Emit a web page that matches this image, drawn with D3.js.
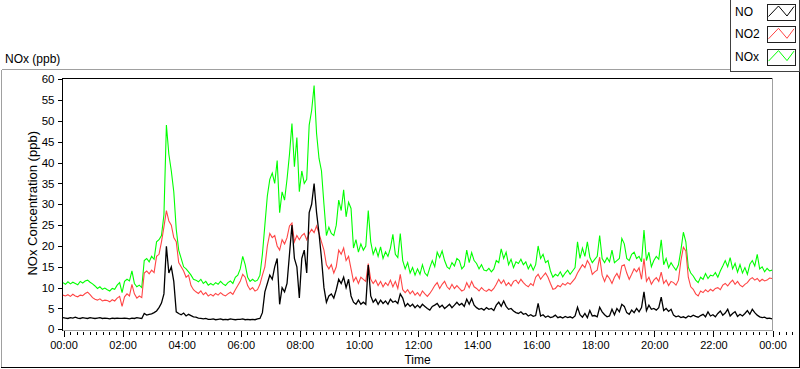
<!DOCTYPE html>
<html><head><meta charset="utf-8">
<script src="https://cdn.jsdelivr.net/npm/d3@7"></script>
<style>
body{margin:0;background:#fff}
svg{display:block}
text{font-family:"Liberation Sans",Arial,sans-serif;fill:#000}
</style>
</head><body>
<svg id="c" width="800" height="369"></svg>
<script>
// ---------- data ----------
const chartTitle = "NOx (ppb)";
const yLabel = "NOx Concentration (ppb)";
const xLabel = "Time";
const seriesNames = ["NO", "NO2", "NOx"];
const yTicks = [0,5,10,15,20,25,30,35,40,45,50,55,60];
const xTickHours = [0,2,4,6,8,10,12,14,16,18,20,22,24];
const xTickLabels = ["00:00","02:00","04:00","06:00","08:00","10:00","12:00","14:00","16:00","18:00","20:00","22:00","00:00"];
const stepMinutes = 5; // one value every 5 minutes, 00:00 .. 24:00

const no = [
2.8,2.7,2.6,2.8,2.7,2.9,2.7,2.6,2.8,2.7,2.6,2.8,
2.7,2.6,2.7,2.8,2.6,2.7,2.6,2.5,2.7,2.6,2.7,2.6,
2.6,2.7,2.6,2.5,2.7,2.6,2.8,2.7,2.6,3.8,3.4,3.6,
3.7,4.0,4.4,5.2,6.3,8.5,19.9,13.5,15.0,11.5,4.2,3.8,
3.5,3.9,3.2,3.6,3.3,3.0,2.9,2.7,2.6,2.5,2.6,2.4,
2.4,2.5,2.3,2.4,2.5,2.3,2.4,2.3,2.5,2.4,2.3,2.4,
2.4,2.5,2.3,2.4,2.3,2.4,2.3,2.5,2.6,4.0,9.0,11.0,
13.0,12.0,15.0,17.0,6.0,10.0,9.0,11.0,18.0,25.0,17.0,15.0,
7.5,17.0,19.0,13.5,28.0,30.0,35.0,28.0,23.0,17.0,10.0,6.5,
8.0,8.5,7.5,9.5,12.0,11.0,12.5,10.0,12.0,8.0,6.5,6.0,
7.0,6.0,6.5,6.0,15.4,8.0,6.5,7.2,6.0,7.0,6.2,6.8,
6.0,7.2,6.5,6.8,6.2,8.5,7.5,5.5,6.2,5.5,6.0,5.2,
5.8,5.2,6.0,5.5,5.0,4.6,5.5,5.8,6.2,5.3,5.8,5.0,
5.5,6.0,5.2,5.8,6.5,5.8,6.2,5.5,7.2,6.0,7.4,5.8,
5.2,4.8,5.0,4.6,5.2,4.8,5.0,4.5,5.8,6.5,5.5,6.8,
5.5,4.8,5.0,4.4,4.0,3.8,4.2,3.6,3.8,3.2,3.5,3.1,
3.3,6.2,3.2,3.5,2.9,3.2,2.8,3.0,3.4,2.8,3.0,2.7,
3.1,2.8,3.0,2.7,3.2,5.3,3.5,2.9,3.8,2.8,4.5,3.2,
3.3,3.0,5.3,4.2,3.5,3.0,3.2,4.8,3.5,5.0,4.2,6.0,
5.5,4.0,3.6,4.6,4.0,5.0,4.2,5.2,9.0,4.5,5.8,4.8,
5.0,4.6,5.2,7.7,4.5,5.0,4.3,4.8,3.4,3.0,3.2,2.8,
3.0,2.7,3.2,3.0,3.4,3.1,2.9,3.3,3.6,3.0,4.2,3.2,
3.5,3.0,3.8,4.4,3.4,3.9,4.8,3.2,3.8,4.2,3.1,3.6,
3.2,3.8,4.5,3.6,4.8,4.0,3.4,3.0,2.8,2.9,2.6,2.7,
2.5];

const no2 = [
8.2,8.0,8.3,7.9,8.4,8.0,7.8,8.2,8.1,8.6,8.9,8.3,
7.6,7.2,7.0,7.3,6.8,7.0,6.9,6.6,7.1,6.8,7.5,7.9,
5.5,7.8,8.5,8.0,10.8,8.5,7.5,8.0,7.6,13.5,14.0,13.3,
14.2,13.6,17.5,18.0,21.0,24.6,28.5,26.0,25.0,22.0,21.0,16.0,
15.0,14.0,12.5,13.0,10.5,9.5,9.0,8.6,9.2,8.3,8.8,8.0,
8.4,8.0,8.6,8.2,8.8,8.3,8.0,8.5,8.9,8.4,9.5,10.5,
11.5,13.2,12.5,10.5,9.5,10.0,9.2,9.5,10.8,13.0,15.0,20.0,
23.0,22.0,22.5,20.0,19.0,21.5,20.5,22.0,24.8,25.5,21.0,22.5,
21.5,22.5,23.0,21.5,23.0,24.0,23.2,24.8,23.0,21.0,19.0,15.5,
14.5,15.5,13.5,15.0,19.0,18.0,19.5,16.5,17.5,14.5,11.5,12.5,
11.0,12.5,12.0,11.5,15.8,12.0,11.0,11.8,10.5,11.5,10.2,11.2,
10.5,11.8,10.2,11.5,9.8,13.2,9.5,8.8,9.5,8.5,9.2,8.2,
8.8,8.0,9.2,8.5,7.9,8.6,9.5,10.5,11.2,9.8,10.8,11.5,
10.2,9.6,10.8,9.8,10.5,9.8,9.2,9.5,11.2,10.0,11.5,10.2,
9.8,9.2,10.0,9.4,9.1,9.6,9.2,9.8,10.8,12.0,11.0,11.8,
10.5,11.2,10.4,11.5,11.8,11.0,12.0,11.2,10.6,10.2,11.0,10.5,
12.5,13.2,12.0,12.8,13.5,12.5,11.0,9.6,9.8,10.5,10.2,11.0,
10.6,11.2,10.8,11.5,12.2,13.5,14.5,15.5,14.8,16.5,15.5,13.2,
13.8,14.2,17.3,13.0,11.5,13.0,12.2,11.0,12.5,13.4,12.2,15.2,
15.5,13.5,12.0,13.2,14.5,13.8,14.8,12.0,17.0,11.5,12.5,10.8,
11.8,12.4,11.5,13.7,11.0,11.8,10.5,11.5,11.2,10.6,11.8,16.5,
19.7,18.8,12.5,10.2,9.6,8.5,8.0,9.2,8.8,9.5,9.0,9.6,
9.2,9.8,10.0,9.5,10.6,11.0,10.4,11.2,11.8,10.8,11.5,10.6,
10.2,10.8,11.2,12.0,12.4,11.8,12.2,11.5,12.0,11.6,11.8,12.3,
12.2];

const nox = [
11.2,10.8,11.4,10.9,11.3,11.0,10.7,11.5,11.1,11.6,11.8,11.3,
10.9,10.4,9.8,10.2,9.6,9.9,9.5,9.2,9.8,9.6,10.6,11.2,
8.8,11.5,12.0,11.6,14.0,11.0,10.2,10.6,10.0,16.5,17.0,16.2,
17.5,16.8,21.0,21.5,22.5,27.5,49.0,42.0,38.0,33.0,24.0,19.0,
17.0,15.0,14.5,13.8,13.0,12.0,11.8,11.4,12.0,11.0,11.5,10.6,
11.0,10.6,11.2,10.8,11.5,10.9,10.5,11.2,11.6,11.0,12.5,13.0,
14.5,17.5,15.5,12.5,11.5,12.0,11.5,11.8,13.0,18.0,25.0,32.0,
36.0,37.5,35.0,40.5,28.0,33.0,31.0,36.0,42.0,49.4,39.0,46.0,
33.0,38.0,35.0,36.0,49.0,52.5,58.5,47.0,41.0,38.0,30.0,22.5,
24.5,23.0,22.5,25.0,31.0,28.5,33.5,27.0,30.5,29.0,19.5,21.5,
18.5,20.5,19.0,20.0,28.5,21.0,18.0,19.5,17.5,19.8,17.0,18.6,
17.5,19.5,22.8,18.0,17.2,23.0,16.5,14.5,16.0,13.5,14.8,13.0,
14.5,13.2,15.5,13.5,12.8,14.8,16.5,15.0,18.5,17.2,18.8,16.5,
15.0,14.5,16.0,15.2,17.0,16.5,14.5,15.2,19.0,16.0,18.4,16.5,
15.8,14.5,15.5,14.2,14.0,14.6,13.8,14.5,16.5,16.0,19.3,17.0,
18.5,15.5,16.8,14.8,16.2,15.8,16.8,15.5,16.2,14.5,15.6,14.2,
15.5,20.0,17.0,18.0,16.0,16.5,14.0,12.5,13.2,12.8,13.8,12.6,
13.5,14.2,13.2,14.0,14.8,21.0,17.0,19.5,17.5,21.0,17.3,16.0,
16.8,17.5,22.5,17.0,16.0,17.2,16.2,19.0,16.0,16.5,17.0,21.8,
20.5,17.0,16.5,18.0,18.5,17.0,17.5,16.2,23.8,16.5,18.5,15.0,
16.5,17.5,16.8,21.5,15.5,17.0,14.8,16.0,15.0,14.2,15.5,19.0,
23.3,21.0,14.9,13.5,12.8,11.8,11.2,12.5,12.0,13.4,12.2,13.0,
12.8,13.6,12.5,14.0,15.2,16.5,15.0,17.2,14.5,15.8,13.7,15.5,
13.5,14.8,13.2,15.6,16.5,15.2,18.0,14.5,15.0,13.8,14.6,14.0,
14.2];

const seriesColors = ["#000000", "#ff4545", "#00ff00"];

// ---------- drawing ----------
const svg = d3.select("#c");
const FONT = '"Liberation Sans",Arial,sans-serif';
const plot = {left: 63, right: 772, top: 79.3, bottom: 329.3};

const hours = no.map((d, i) => i * stepMinutes / 60);
const x = d3.scaleLinear().domain([0, 24]).range([plot.left, plot.right]);
const y = d3.scaleLinear().domain([0, 60]).range([plot.bottom, plot.top]);

// outer frame
const g0 = svg.append("g").attr("shape-rendering", "crispEdges");
g0.append("line").attr("x1", 1.5).attr("x2", 1.5).attr("y1", 69.5).attr("y2", 367).attr("stroke", "#a0a0a0");
g0.append("line").attr("x1", 1.5).attr("x2", 730).attr("y1", 69.5).attr("y2", 69.5).attr("stroke", "#a0a0a0");
g0.append("line").attr("x1", 1).attr("x2", 800).attr("y1", 367.5).attr("y2", 367.5).attr("stroke", "#000");
g0.append("line").attr("x1", 799.5).attr("x2", 799.5).attr("y1", 71).attr("y2", 368).attr("stroke", "#000");

// plot area frame
g0.append("line").attr("x1", plot.left).attr("x2", plot.right).attr("y1", 78.5).attr("y2", 78.5).attr("stroke", "#000");
g0.append("line").attr("x1", plot.right + 0.5).attr("x2", plot.right + 0.5).attr("y1", 78).attr("y2", 331).attr("stroke", "#a0a0a0");
g0.append("line").attr("x1", plot.left).attr("x2", plot.right + 1).attr("y1", 330.5).attr("y2", 330.5).attr("stroke", "#a0a0a0");

// title
svg.append("text").attr("x", 5).attr("y", 63).attr("font-size", 12).text(chartTitle);

// y axis
const yAxis = d3.axisLeft(y).tickValues(yTicks).tickSize(5).tickPadding(3);
const gy = svg.append("g").attr("transform", `translate(${plot.left - 0.5},0)`).call(yAxis);
gy.select(".domain").attr("d", `M0,78V331`).attr("stroke", "#000").attr("shape-rendering", "crispEdges");
gy.selectAll(".tick line").attr("stroke", "#000").attr("shape-rendering", "crispEdges");
gy.selectAll(".tick text").attr("font-size", 11.5).attr("font-family", FONT).attr("fill", "#000");

// x axis minor ticks
const minor = d3.range(0, 24 * 9 + 1).map(k => k * 2 / 9);
const xMinor = d3.axisBottom(x).tickValues(minor).tickSize(3).tickFormat("");
const gxm = svg.append("g").attr("transform", `translate(0.5,${plot.bottom + 2.7})`).call(xMinor);
gxm.select(".domain").remove();
gxm.selectAll(".tick line").attr("stroke", "#000").attr("shape-rendering", "crispEdges");

// x axis major
const xAxis = d3.axisBottom(x).tickValues(xTickHours).tickSize(6).tickPadding(4)
  .tickFormat((d, i) => xTickLabels[i]);
const gx = svg.append("g").attr("transform", `translate(0.5,${plot.bottom + 1.7})`).call(xAxis);
gx.select(".domain").remove();
gx.selectAll(".tick line").attr("stroke", "#000").attr("shape-rendering", "crispEdges");
gx.selectAll(".tick text").attr("font-size", 11).attr("font-family", FONT).attr("fill", "#000");

// axis labels
svg.append("text").attr("transform", `translate(37,${(plot.top + plot.bottom) / 2 - 1}) rotate(-90)`)
  .attr("text-anchor", "middle").attr("font-size", 13).text(yLabel);
svg.append("text").attr("x", (plot.left + plot.right) / 2).attr("y", 364)
  .attr("text-anchor", "middle").attr("font-size", 12).text(xLabel);

// lines
const line = d3.line().x((d, i) => x(hours[i])).y(d => y(d));
const seriesData = [nox, no2, no];
const seriesCol = [seriesColors[2], seriesColors[1], seriesColors[0]];
svg.append("g").selectAll("path").data(seriesData).join("path")
  .attr("d", line).attr("fill", "none")
  .attr("stroke", (d, i) => seriesCol[i]).attr("stroke-width", (d, i) => i === 2 ? 1.3 : 1.1)
  .attr("stroke-linejoin", "miter");

// legend
const lg = svg.append("g").attr("shape-rendering", "crispEdges");
lg.append("rect").attr("x", 730.5).attr("y", -1).attr("width", 69).attr("height", 72.5)
  .attr("fill", "#fff").attr("stroke", "#404040");
const sample = [[1.5, 12.5], [11.5, 2], [20, 12], [27, 2.5]];
seriesNames.forEach((name, i) => {
  const top = 4 + i * 22.3;
  svg.append("text").attr("x", 735).attr("y", top + 12).attr("font-size", 12).text(name);
  const sw = svg.append("g").attr("transform", `translate(767,${top})`);
  sw.append("rect").attr("x", 0.5).attr("y", 0.5).attr("width", 28).attr("height", 16)
    .attr("fill", "#fff").attr("stroke", "#202020").attr("shape-rendering", "crispEdges");
  sw.append("path").attr("d", d3.line()(sample)).attr("fill", "none")
    .attr("stroke", seriesColors[i]).attr("stroke-width", 1);
});
</script>
</body></html>
